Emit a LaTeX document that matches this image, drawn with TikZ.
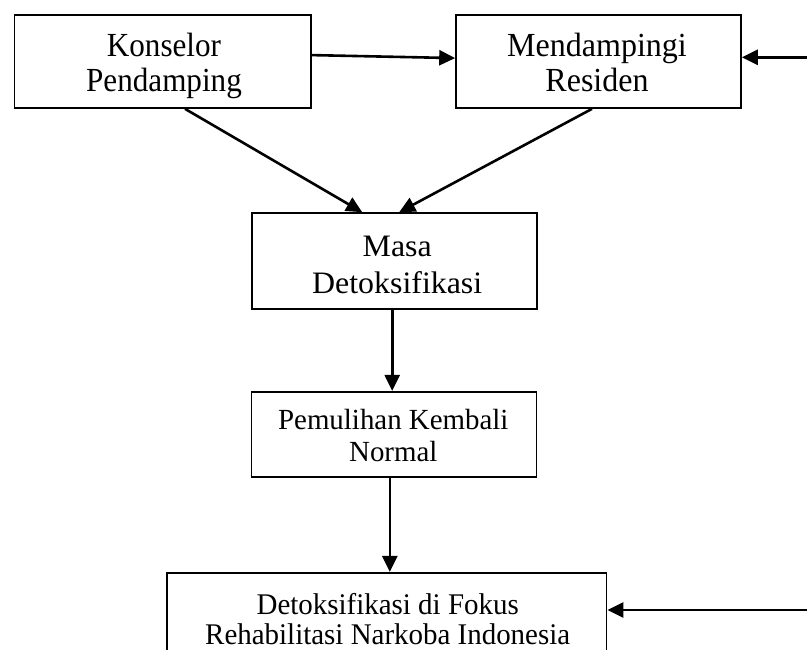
\documentclass[tikz,border=0pt]{standalone}
\usepackage{fontspec}
\setmainfont{Liberation Serif}
\newfontfamily\fnttop[FakeStretch=0.924]{Liberation Serif}
\newfontfamily\fntmen[FakeStretch=0.95]{Liberation Serif}
\newfontfamily\fntmasa[FakeStretch=1.022]{Liberation Serif}
\newfontfamily\fntpem[FakeStretch=0.99]{Liberation Serif}
\newfontfamily\fntbot[FakeStretch=0.965]{Liberation Serif}
\usetikzlibrary{arrows.meta}
\tikzset{
  boxline/.style={draw, line width=1.6pt, inner sep=0pt},
  txt/.style={inner sep=0pt, align=center, anchor=base},
  toptxt/.style={txt, font=\fnttop\fontsize{33.7}{35}\selectfont},
  mentxt/.style={txt, font=\fntmen\fontsize{33.7}{35}\selectfont},
  masatxt/.style={txt, font=\fntmasa\fontsize{31.2}{37.3}\selectfont},
  pemtxt/.style={txt, font=\fntpem\fontsize{29.2}{32}\selectfont},
  bottxt/.style={txt, text depth=0pt, font=\fntbot\fontsize{30}{29.5}\selectfont},
  arr/.style={line width=2.6pt, -{Triangle[length=16pt,width=15pt]}}
}
\begin{document}
\begin{tikzpicture}[x=1pt,y=-1pt]
\useasboundingbox (0,0) rectangle (807,650);
\node[boxline, minimum width=296.6pt, minimum height=93.3pt] (K) at (162.7,61.4) {};
\node[boxline, minimum width=285pt, minimum height=93.3pt] (M) at (598.5,61.4) {};
\node[boxline, minimum width=285pt, minimum height=96pt] (D) at (394.2,261) {};
\node[boxline, minimum width=285pt, minimum height=85pt] (P) at (393.8,434.2) {};
\node[boxline, minimum width=439.8pt, minimum height=89.4pt] (B) at (386.7,617.4) {};
\node[toptxt] (Kt) at (164,91.7) {Konselor\\Pendamping};
\node[mentxt] (Mt) at (597,91.7) {Mendampingi\\Residen};
\node[masatxt] (Dt) at (397.2,294) {Masa\\Detoksifikasi};
\node[pemtxt] (Pt) at (393.3,461) {Pemulihan Kembali\\Normal};
\node[bottxt] (Bt) at (387.7,644.3) {Detoksifikasi di Fokus\\Rehabilitasi Narkoba Indonesia};
\coordinate (r1) at (807,57.3);
\coordinate (r2) at (807,610);
\draw[arr] ([yshift=6.3pt]K.east) -- ([yshift=3.3pt]M.west);
\draw[arr] (r1) -- (M.east |- r1);
\draw[arr] ([xshift=22.3pt]K.south) -- ([xshift=-32pt]D.north);
\draw[arr] ([xshift=-6.5pt]M.south) -- ([xshift=5pt]D.north);
\draw[arr] ([xshift=-2pt]D.south) -- ([xshift=-2pt]D.south |- P.north);
\draw[arr] ([xshift=-4pt]P.south) -- ([xshift=-4pt]P.south |- B.north);
\draw[arr] (r2) -- (B.east |- r2);
\end{tikzpicture}
\end{document}
